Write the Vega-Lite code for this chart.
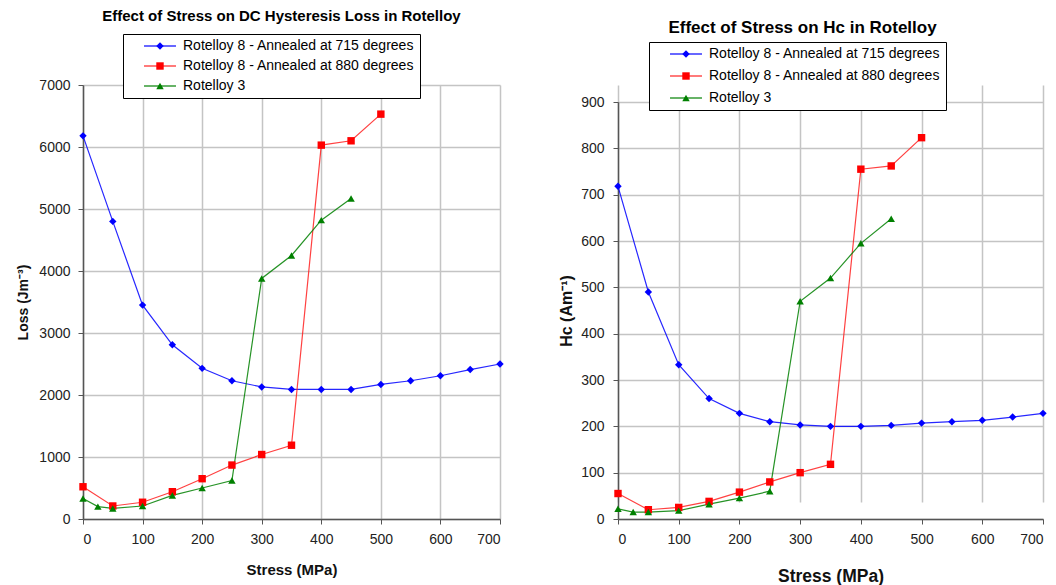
{
  "$schema": "https://vega.github.io/schema/vega-lite/v6.json",
  "background": "white",
  "padding": {"left": 16, "top": 8, "right": 5, "bottom": 5},
  "datasets": {
    "loss": [
      {"stress": 0, "value": 6180, "series": "Rotelloy 8 - Annealed at 715 degrees"},
      {"stress": 50, "value": 4800, "series": "Rotelloy 8 - Annealed at 715 degrees"},
      {"stress": 100, "value": 3450, "series": "Rotelloy 8 - Annealed at 715 degrees"},
      {"stress": 150, "value": 2810, "series": "Rotelloy 8 - Annealed at 715 degrees"},
      {"stress": 200, "value": 2430, "series": "Rotelloy 8 - Annealed at 715 degrees"},
      {"stress": 250, "value": 2230, "series": "Rotelloy 8 - Annealed at 715 degrees"},
      {"stress": 300, "value": 2130, "series": "Rotelloy 8 - Annealed at 715 degrees"},
      {"stress": 350, "value": 2090, "series": "Rotelloy 8 - Annealed at 715 degrees"},
      {"stress": 400, "value": 2090, "series": "Rotelloy 8 - Annealed at 715 degrees"},
      {"stress": 450, "value": 2090, "series": "Rotelloy 8 - Annealed at 715 degrees"},
      {"stress": 500, "value": 2170, "series": "Rotelloy 8 - Annealed at 715 degrees"},
      {"stress": 550, "value": 2230, "series": "Rotelloy 8 - Annealed at 715 degrees"},
      {"stress": 600, "value": 2310, "series": "Rotelloy 8 - Annealed at 715 degrees"},
      {"stress": 650, "value": 2410, "series": "Rotelloy 8 - Annealed at 715 degrees"},
      {"stress": 700, "value": 2500, "series": "Rotelloy 8 - Annealed at 715 degrees"},
      {"stress": 0, "value": 520, "series": "Rotelloy 8 - Annealed at 880 degrees"},
      {"stress": 50, "value": 210, "series": "Rotelloy 8 - Annealed at 880 degrees"},
      {"stress": 100, "value": 270, "series": "Rotelloy 8 - Annealed at 880 degrees"},
      {"stress": 150, "value": 440, "series": "Rotelloy 8 - Annealed at 880 degrees"},
      {"stress": 200, "value": 650, "series": "Rotelloy 8 - Annealed at 880 degrees"},
      {"stress": 250, "value": 870, "series": "Rotelloy 8 - Annealed at 880 degrees"},
      {"stress": 300, "value": 1040, "series": "Rotelloy 8 - Annealed at 880 degrees"},
      {"stress": 350, "value": 1190, "series": "Rotelloy 8 - Annealed at 880 degrees"},
      {"stress": 400, "value": 6030, "series": "Rotelloy 8 - Annealed at 880 degrees"},
      {"stress": 450, "value": 6100, "series": "Rotelloy 8 - Annealed at 880 degrees"},
      {"stress": 500, "value": 6530, "series": "Rotelloy 8 - Annealed at 880 degrees"},
      {"stress": 0, "value": 330, "series": "Rotelloy 3"},
      {"stress": 25, "value": 200, "series": "Rotelloy 3"},
      {"stress": 50, "value": 170, "series": "Rotelloy 3"},
      {"stress": 100, "value": 210, "series": "Rotelloy 3"},
      {"stress": 150, "value": 380, "series": "Rotelloy 3"},
      {"stress": 200, "value": 500, "series": "Rotelloy 3"},
      {"stress": 250, "value": 620, "series": "Rotelloy 3"},
      {"stress": 300, "value": 3880, "series": "Rotelloy 3"},
      {"stress": 350, "value": 4250, "series": "Rotelloy 3"},
      {"stress": 400, "value": 4820, "series": "Rotelloy 3"},
      {"stress": 450, "value": 5170, "series": "Rotelloy 3"}
    ],
    "hc": [
      {"stress": 0, "value": 718, "series": "Rotelloy 8 - Annealed at 715 degrees"},
      {"stress": 50, "value": 490, "series": "Rotelloy 8 - Annealed at 715 degrees"},
      {"stress": 100, "value": 333, "series": "Rotelloy 8 - Annealed at 715 degrees"},
      {"stress": 150, "value": 260, "series": "Rotelloy 8 - Annealed at 715 degrees"},
      {"stress": 200, "value": 228, "series": "Rotelloy 8 - Annealed at 715 degrees"},
      {"stress": 250, "value": 210, "series": "Rotelloy 8 - Annealed at 715 degrees"},
      {"stress": 300, "value": 203, "series": "Rotelloy 8 - Annealed at 715 degrees"},
      {"stress": 350, "value": 200, "series": "Rotelloy 8 - Annealed at 715 degrees"},
      {"stress": 400, "value": 200, "series": "Rotelloy 8 - Annealed at 715 degrees"},
      {"stress": 450, "value": 202, "series": "Rotelloy 8 - Annealed at 715 degrees"},
      {"stress": 500, "value": 207, "series": "Rotelloy 8 - Annealed at 715 degrees"},
      {"stress": 550, "value": 210, "series": "Rotelloy 8 - Annealed at 715 degrees"},
      {"stress": 600, "value": 213, "series": "Rotelloy 8 - Annealed at 715 degrees"},
      {"stress": 650, "value": 220, "series": "Rotelloy 8 - Annealed at 715 degrees"},
      {"stress": 700, "value": 228, "series": "Rotelloy 8 - Annealed at 715 degrees"},
      {"stress": 0, "value": 55, "series": "Rotelloy 8 - Annealed at 880 degrees"},
      {"stress": 50, "value": 20, "series": "Rotelloy 8 - Annealed at 880 degrees"},
      {"stress": 100, "value": 25, "series": "Rotelloy 8 - Annealed at 880 degrees"},
      {"stress": 150, "value": 38, "series": "Rotelloy 8 - Annealed at 880 degrees"},
      {"stress": 200, "value": 58, "series": "Rotelloy 8 - Annealed at 880 degrees"},
      {"stress": 250, "value": 80, "series": "Rotelloy 8 - Annealed at 880 degrees"},
      {"stress": 300, "value": 100, "series": "Rotelloy 8 - Annealed at 880 degrees"},
      {"stress": 350, "value": 118, "series": "Rotelloy 8 - Annealed at 880 degrees"},
      {"stress": 400, "value": 755, "series": "Rotelloy 8 - Annealed at 880 degrees"},
      {"stress": 450, "value": 762, "series": "Rotelloy 8 - Annealed at 880 degrees"},
      {"stress": 500, "value": 823, "series": "Rotelloy 8 - Annealed at 880 degrees"},
      {"stress": 0, "value": 22, "series": "Rotelloy 3"},
      {"stress": 25, "value": 15, "series": "Rotelloy 3"},
      {"stress": 50, "value": 15, "series": "Rotelloy 3"},
      {"stress": 100, "value": 18, "series": "Rotelloy 3"},
      {"stress": 150, "value": 32, "series": "Rotelloy 3"},
      {"stress": 200, "value": 45, "series": "Rotelloy 3"},
      {"stress": 250, "value": 60, "series": "Rotelloy 3"},
      {"stress": 300, "value": 470, "series": "Rotelloy 3"},
      {"stress": 350, "value": 520, "series": "Rotelloy 3"},
      {"stress": 400, "value": 595, "series": "Rotelloy 3"},
      {"stress": 450, "value": 648, "series": "Rotelloy 3"}
    ]
  },
  "config": {
    "font": "Liberation Sans",
    "view": {"stroke": null},
    "axis": {
      "labelFont": "Liberation Sans", "labelFontSize": 14, "labelColor": "#222", "format": "d",
      "titleFont": "Liberation Sans", "titleFontSize": 15, "titleFontWeight": "bold", "titleColor": "#111",
      "gridColor": "#c4c4c4", "gridWidth": 1.5, "domainColor": "#555", "domainWidth": 1.5,
      "tickColor": "#555", "tickSize": 5, "labelPadding": 8
    },
    "title": {"font": "Liberation Sans", "fontSize": 15, "fontWeight": "bold", "color": "#000"},
    "legend": {"labelFont": "Liberation Sans", "labelFontSize": 14, "labelColor": "#000", "labelLimit": 400, "padding": 5}
  },
  "resolve": {"scale": {"stroke": "independent", "fill": "independent", "shape": "independent"}, "legend": {"stroke": "independent", "fill": "independent", "shape": "independent"}},
  "spacing": 54,
  "hconcat": [
    {
      "width": 417, "height": 434,
      "title": {"text": "Effect of Stress on DC Hysteresis Loss in Rotelloy", "offset": 10, "dx": -10},
      "data": {"name": "loss"},
      "encoding": {
        "x": {"field": "stress", "type": "quantitative", "scale": {"domain": [0, 700], "nice": false}, "axis": {"title": "Stress (MPa)", "values": [0, 100, 200, 300, 400, 500, 600, 700], "titlePadding": 16}},
        "y": {"field": "value", "type": "quantitative", "scale": {"domain": [0, 7000], "nice": false}, "axis": {"title": "Loss (Jm⁻³)", "values": [0, 1000, 2000, 3000, 4000, 5000, 6000, 7000], "titlePadding": 8, "titleFontSize": 14}}
      },
      "layer": [
        {
          "mark": {"type": "line", "strokeWidth": 1.2, "strokeOpacity": 0.85},
          "encoding": {
            "stroke": {"field": "series", "type": "nominal", "title": null,
              "scale": {"domain": ["Rotelloy 8 - Annealed at 715 degrees", "Rotelloy 8 - Annealed at 880 degrees", "Rotelloy 3"], "range": ["#0000ff", "#ff2020", "#008000"]},
              "legend": {"title": null, "orient": "none", "legendX": 40, "legendY": -51, "strokeColor": "#000", "fillColor": "#fff", "rowPadding": 6,
                "symbolType": "M-4.31,0H4.31", "symbolSize": 55, "symbolStrokeWidth": 1.2, "symbolOffset": 25, "labelOffset": 16}}
          }
        },
        {
          "mark": {"type": "point", "filled": true, "opacity": 1, "size": 55},
          "encoding": {
            "fill": {"field": "series", "type": "nominal", "title": null, "sort": null,
              "scale": {"range": ["#0000ff", "#ff0000", "#008000"]},
              "legend": {"title": null, "orient": "none", "legendX": 40, "legendY": -51, "strokeColor": null, "fillColor": null, "rowPadding": 6,
                "symbolSize": 55, "symbolStrokeWidth": 0, "symbolOffset": 25, "labelOffset": 16, "labelOpacity": 0}},
            "shape": {"field": "series", "type": "nominal", "title": null, "sort": null,
              "scale": {"range": ["diamond", "square", "triangle-up"]},
              "legend": {"title": null, "orient": "none", "legendX": 40, "legendY": -51, "strokeColor": null, "fillColor": null, "rowPadding": 6,
                "symbolSize": 55, "symbolStrokeWidth": 0, "symbolOffset": 25, "labelOffset": 16, "labelOpacity": 0}}
          }
        }
      ]
    },
    {
      "width": 425, "height": 434,
      "title": {"text": "Effect of Stress on Hc in Rotelloy", "offset": 5, "dx": -28, "fontSize": 17},
      "data": {"name": "hc"},
      "encoding": {
        "x": {"field": "stress", "type": "quantitative", "scale": {"domain": [0, 700], "nice": false}, "axis": {"title": "Stress (MPa)", "values": [0, 100, 200, 300, 400, 500, 600, 700], "titlePadding": 21, "titleFontSize": 17.5}},
        "y": {"field": "value", "type": "quantitative", "scale": {"domain": [0, 900], "nice": false, "range": [434, 17]}, "axis": {"title": "Hc (Am⁻¹)", "values": [0, 100, 200, 300, 400, 500, 600, 700, 800, 900], "titlePadding": 6, "titleFontSize": 16, "labelPadding": 9}}
      },
      "layer": [
        {
          "mark": {"type": "line", "strokeWidth": 1.2, "strokeOpacity": 0.85},
          "encoding": {
            "stroke": {"field": "series", "type": "nominal", "title": null,
              "scale": {"domain": ["Rotelloy 8 - Annealed at 715 degrees", "Rotelloy 8 - Annealed at 880 degrees", "Rotelloy 3"], "range": ["#0000ff", "#ff2020", "#008000"]},
              "legend": {"title": null, "orient": "none", "legendX": 31, "legendY": -43, "strokeColor": "#000", "fillColor": "#fff", "rowPadding": 8,
                "symbolType": "M-4.31,0H4.31", "symbolSize": 55, "symbolStrokeWidth": 1.2, "symbolOffset": 25, "labelOffset": 16}}
          }
        },
        {
          "mark": {"type": "point", "filled": true, "opacity": 1, "size": 55},
          "encoding": {
            "fill": {"field": "series", "type": "nominal", "title": null, "sort": null,
              "scale": {"range": ["#0000ff", "#ff0000", "#008000"]},
              "legend": {"title": null, "orient": "none", "legendX": 31, "legendY": -43, "strokeColor": null, "fillColor": null, "rowPadding": 8,
                "symbolSize": 55, "symbolStrokeWidth": 0, "symbolOffset": 25, "labelOffset": 16, "labelOpacity": 0}},
            "shape": {"field": "series", "type": "nominal", "title": null, "sort": null,
              "scale": {"range": ["diamond", "square", "triangle-up"]},
              "legend": {"title": null, "orient": "none", "legendX": 31, "legendY": -43, "strokeColor": null, "fillColor": null, "rowPadding": 8,
                "symbolSize": 55, "symbolStrokeWidth": 0, "symbolOffset": 25, "labelOffset": 16, "labelOpacity": 0}}
          }
        }
      ]
    }
  ]
}
